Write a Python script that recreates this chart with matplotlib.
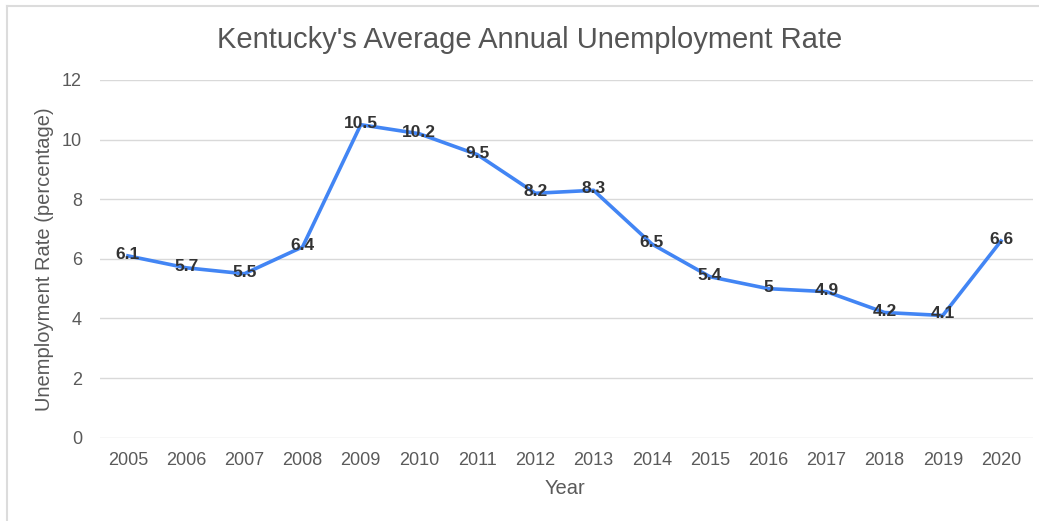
import matplotlib
matplotlib.use("Agg")
import matplotlib.pyplot as plt
from matplotlib.lines import Line2D

years = ["2005", "2006", "2007", "2008", "2009", "2010", "2011", "2012",
         "2013", "2014", "2015", "2016", "2017", "2018", "2019", "2020"]
rates = [6.1, 5.7, 5.5, 6.4, 10.5, 10.2, 9.5, 8.2, 8.3, 6.5, 5.4, 5.0, 4.9, 4.2, 4.1, 6.6]
labels = ["6.1", "5.7", "5.5", "6.4", "10.5", "10.2", "9.5", "8.2", "8.3", "6.5",
          "5.4", "5", "4.9", "4.2", "4.1", "6.6"]
yticks = [0, 2, 4, 6, 8, 10, 12]

plt.rcParams['font.family'] = ['Liberation Sans', 'DejaVu Sans']

W, H = 1039, 521
fig = plt.figure(figsize=(W / 100, H / 100), dpi=100)
fig.patch.set_facecolor("white")

ax = fig.add_axes([100 / W, (H - 437.7) / H, (1033 - 100) / W, (437.7 - 80) / H])
x = list(range(len(years)))
ax.plot(x, rates, color="#4285F4", lw=2.6, solid_joinstyle="round", zorder=3)
for xi, yi, lab in zip(x, rates, labels):
    ax.text(xi, yi + 0.05, lab, ha="center", va="center", fontsize=12.5,
            fontweight="bold", color="#333333", zorder=4)

ax.set_xlim(-0.48, 15.55)
ax.set_ylim(0, 12)
ax.set_yticks(yticks)
ax.set_yticklabels([str(v) for v in yticks])
ax.set_xticks(x)
ax.set_xticklabels(years)
ax.tick_params(axis="both", length=0, labelsize=13, labelcolor="#5a5a5a")
ax.tick_params(axis="y", pad=13)
ax.tick_params(axis="x", pad=10)
ax.grid(axis="y", color="#d9d9d9", lw=1)
ax.set_axisbelow(True)
for s in ax.spines.values():
    s.set_visible(False)

fig.text(530 / W, 1 - 40 / H, "Kentucky's Average Annual Unemployment Rate",
         ha="center", va="center", fontsize=21, color="#555555")
fig.text(565 / W, 1 - 489 / H, "Year", ha="center", va="center",
         fontsize=14.5, color="#5a5a5a")
fig.text(45 / W, 1 - 259 / H, "Unemployment Rate (percentage)", ha="center",
         va="center", rotation=90, fontsize=14.5, color="#5a5a5a")

# outer frame (top and left edges visible)
fig.add_artist(Line2D([7 / W, 1], [1 - 6 / H, 1 - 6 / H], transform=fig.transFigure,
                      color="#dcdcdc", lw=1.5))
fig.add_artist(Line2D([7 / W, 7 / W], [0, 1 - 6 / H], transform=fig.transFigure,
                      color="#dcdcdc", lw=1.5))

fig.savefig("out.png", dpi=100)
